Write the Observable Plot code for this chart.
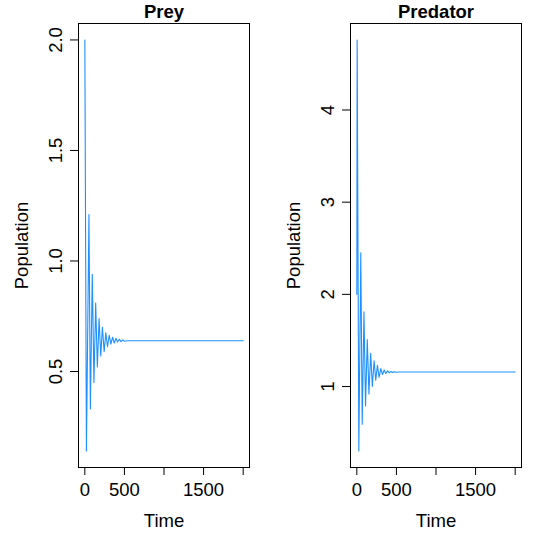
<!DOCTYPE html>
<html>
<head>
<meta charset="utf-8">
<script src="https://cdn.jsdelivr.net/npm/d3@7"></script>
<script src="https://cdn.jsdelivr.net/npm/@observablehq/plot@0.6"></script>
<style>
  html, body { margin: 0; padding: 0; background: #fff; }
  #wrap { display: flex; width: 545px; height: 545px; }
</style>
</head>
<body>
<div id="wrap"></div>
<script>
// Prey series (time, population)
const preyTime = [0, 20, 52, 70, 94, 115, 137, 158, 180, 201, 222, 244, 265, 286, 308, 329, 350, 372, 393, 414, 436, 457, 478, 500, 540, 2000];
const preyPop  = [2.0, 0.14, 1.21, 0.33, 0.94, 0.45, 0.81, 0.52, 0.74, 0.57, 0.70, 0.59, 0.675, 0.612, 0.664, 0.624, 0.655, 0.629, 0.650, 0.633, 0.646, 0.635, 0.643, 0.637, 0.639, 0.639];

// Predator series
const predTime = [0, 4, 25, 50, 68, 90, 110, 132, 153, 175, 196, 218, 239, 260, 281, 303, 324, 345, 366, 388, 409, 430, 452, 473, 494, 540, 2000];
const predPop  = [2.0, 4.76, 0.30, 2.45, 0.59, 1.81, 0.79, 1.51, 0.92, 1.36, 1.00, 1.28, 1.07, 1.23, 1.10, 1.195, 1.13, 1.18, 1.142, 1.17, 1.148, 1.164, 1.152, 1.161, 1.155, 1.158, 1.158];

// Axis ticks
const xTicks = [0, 500, 1000, 1500, 2000];
const xTickLabels = ["0", "500", "", "1500", ""];
const preyYTicks = [0.5, 1.0, 1.5, 2.0];
const preyYTickLabels = ["0.5", "1.0", "1.5", "2.0"];
const predYTicks = [1, 2, 3, 4];
const predYTickLabels = ["1", "2", "3", "4"];

const titles = ["Prey", "Predator"];
const xLabel = "Time";
const yLabel = "Population";

const LINE = "#1E90FF";
const FONT = "'Liberation Sans', Arial, Helvetica, sans-serif";

function rPad(vals, f = 0.04) {
  const lo = d3.min(vals), hi = d3.max(vals), r = hi - lo;
  return [lo - f * r, hi + f * r];
}

function panel({time, pop, yTicks, yTickLabels, title, width, marginLeft, marginRight}) {
  const data = time.map((t, i) => ({t, v: pop[i]}));
  return Plot.plot({
    width, height: 545,
    marginLeft, marginRight, marginTop: 23, marginBottom: 78,
    style: {font: `18.5px ${FONT}`, color: "#000", background: "#fff"},
    x: {domain: rPad(time)},
    y: {domain: rPad(pop)},
    marks: [
      Plot.frame({stroke: "#000", strokeWidth: 1}),
      Plot.axisX({
        ticks: xTicks, tickFormat: d => xTickLabels[xTicks.indexOf(d)],
        tickSize: 8, tickPadding: 7, stroke: "#000",
        label: xLabel, labelArrow: "none", labelAnchor: "center", labelOffset: 59.5, fontSize: 18.5
      }),
      Plot.axisY({
        ticks: yTicks, tickFormat: d => yTickLabels[yTicks.indexOf(d)],
        tickSize: 8, tickPadding: 9, tickRotate: -90, stroke: "#000",
        label: yLabel, labelArrow: "none", labelAnchor: "center", labelOffset: 64, fontSize: 18.5
      }),
      Plot.line(data, {x: "t", y: "v", stroke: LINE, strokeWidth: 1.1}),
      Plot.text([title], {frameAnchor: "top", dy: -5.5, lineAnchor: "bottom", fontWeight: "bold", fontSize: 18.5, text: d => d})
    ]
  });
}

const wrap = document.getElementById("wrap");
wrap.appendChild(panel({time: preyTime, pop: preyPop, yTicks: preyYTicks, yTickLabels: preyYTickLabels, title: titles[0], width: 272, marginLeft: 78, marginRight: 23}));
wrap.appendChild(panel({time: predTime, pop: predPop, yTicks: predYTicks, yTickLabels: predYTickLabels, title: titles[1], width: 273, marginLeft: 78, marginRight: 24}));
</script>
</body>
</html>
